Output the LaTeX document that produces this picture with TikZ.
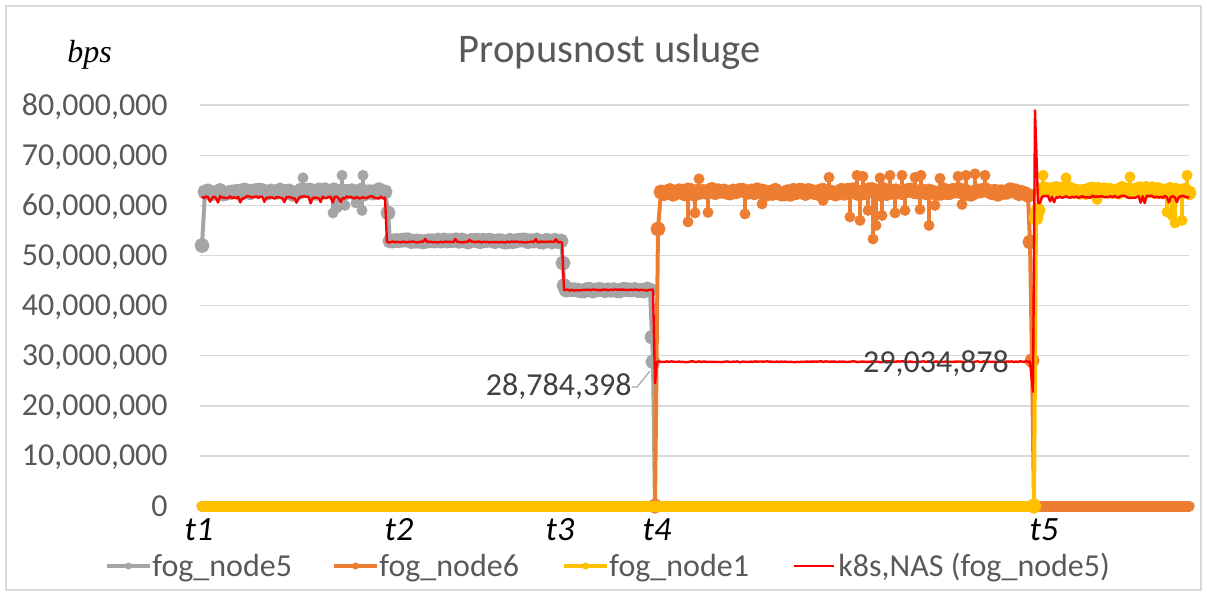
\documentclass[tikz,border=0pt]{standalone}
\usepackage{fontspec}
\setmainfont{Carlito}
\newfontfamily\serifit{Liberation Serif}
\definecolor{gcol}{HTML}{A5A5A5}
\definecolor{ocol}{HTML}{ED7D31}
\definecolor{ycol}{HTML}{FFC000}
\definecolor{rcol}{HTML}{FF0000}
\definecolor{gridcol}{HTML}{D9D9D9}
\definecolor{txtcol}{HTML}{595959}
\definecolor{labcol}{HTML}{404040}

\tikzset{
  series/.style={draw=#1, line width=2pt, line join=round, line cap=round,
    mark=*, mark size=2.75pt, mark options={draw=none, fill=#1}},
  zerobar/.style={draw=#1, line width=5.5pt, line cap=round},
  stem/.style={draw=#1, line width=2pt},
  knas/.style={draw=rcol, line width=1.2pt, line join=round},
  ticklab/.style={font=\fontsize{16}{16}\selectfont, text=txtcol, anchor=base east, inner sep=0pt},
  tlab/.style={font=\fontsize{17}{17}\selectfont\itshape, anchor=base, inner sep=0pt},
  datalab/.style={font=\fontsize{16}{16}\selectfont, text=labcol, inner sep=0pt},
  legtxt/.style={font=\fontsize{16}{16}\selectfont, text=txtcol, anchor=base west, inner sep=0pt}
}

\begin{document}
\begin{tikzpicture}[x=0.5pt, y=-0.5pt, declare function={py(\v)=506-5.01*\v;}]
\pgfmathsetseed{7}
\useasboundingbox (0,0) rectangle (1207,596);
\draw[gridcol, line width=0.75pt] (6,6) rectangle (1201,590);

% grid and axis labels
\foreach \v/\lab in {0/0, 10/{10,000,000}, 20/{20,000,000}, 30/{30,000,000}, 40/{40,000,000},
                     50/{50,000,000}, 60/{60,000,000}, 70/{70,000,000}, 80/{80,000,000}} {
  \draw[gridcol, line width=0.75pt] (200,{py(\v)}) -- (1189,{py(\v)});
  \node[ticklab] (tick\v) at (168,{py(\v)+10}) {\lab};
}
\node[font=\fontsize{20.3}{20.3}\selectfont, text=txtcol, anchor=base, inner sep=0pt] (title) at (610,62) {Propusnost usluge};
\node[font=\fontsize{16}{16}\selectfont\serifit\itshape, anchor=base west, inner sep=0pt] (unit) at (67,62) {bps};

% fog_node5
\draw[zerobar=gcol] (655,506) -- (1189,506);
\draw[series=gcol] plot coordinates {(202,{py(52)}) (205,{py(62.7)})}
  -- plot[domain=208:382, samples=59] (\x,{py(62.7+0.45*rand)})
  -- plot coordinates {(385,{py(62.7)}) (388,{py(58.5)}) (390,{py(52.9)})}
  -- plot[domain=393:558, samples=56] (\x,{py(52.9+0.25*rand)})
  -- plot coordinates {(561,{py(52.9)}) (563,{py(48.5)}) (564,{py(44)}) (566,{py(43.1)})}
  -- plot[domain=569:647, samples=27] (\x,{py(43.1+0.25*rand)})
  -- plot coordinates {(650,{py(43.1)}) (652,{py(33.7)}) (653,{py(28.78)}) (655,{py(0)})};
\foreach \px/\pv in {303/65.5, 342/66, 363/66, 333/58.5, 337/59.5, 345/60, 356/60.5, 362/59, 293/61.8} {
  \draw[stem=gcol] (\px,{py(62.7)}) -- (\px,{py(\pv)});
  \fill[gcol] (\px,{py(\pv)}) circle[radius=5.5];
}

% fog_node6
\draw[zerobar=ocol] (202,506) -- (654,506);
\draw[zerobar=ocol] (1034,506) -- (1189,506);
\draw[series=ocol] plot coordinates {(655,{py(0)}) (658,{py(55.3)}) (661,{py(62.7)})}
  -- plot[domain=664:1025, samples=121] (\x,{py(62.7+0.5*rand)})
  -- plot coordinates {(1028,{py(62)}) (1030,{py(52.7)}) (1032,{py(29.03)}) (1034,{py(0)})};
\foreach \px/\pv in {699/65.3, 829/65.6, 857/66, 863/65.8, 880/65.5, 890/66, 902/66, 915/65.6,
                     921/66, 940/65.4, 958/65.8, 966/66, 975/66.3, 985/66,
                     688/56.7, 695/58.5, 708/58.6, 745/58.3, 762/60.3, 823/61, 850/57.7, 860/57,
                     868/59, 873/53.3, 876/56, 882/58, 895/58.5, 905/59, 920/59.2, 929/56,
                     935/60, 962/60.2} {
  \draw[stem=ocol] (\px,{py(62.7)}) -- (\px,{py(\pv)});
  \fill[ocol] (\px,{py(\pv)}) circle[radius=5.5];
}

% fog_node1
\draw[zerobar=ycol] (202,506) -- (1034,506);
\draw[series=ycol] plot coordinates {(1034,{py(0)}) (1036,{py(57.5)}) (1038,{py(59)}) (1041,{py(63)})}
  -- plot[domain=1044:1185, samples=48] (\x,{py(63+0.45*rand)})
  -- plot coordinates {(1189,{py(62.5)})};
\foreach \px/\pv in {1043/66, 1066/65.5, 1130/65.7, 1187/66, 1097/61.2, 1167/58.7, 1172/58,
                     1175/56.5, 1182/57} {
  \draw[stem=ycol] (\px,{py(63)}) -- (\px,{py(\pv)});
  \fill[ycol] (\px,{py(\pv)}) circle[radius=5.5];
}

% k8s,NAS
\draw[knas] (202,{py(61.8)})
  -- plot[domain=204:385, samples=91] (\x,{py(61.6+0.25*rand-1.1*(rnd>0.9))})
  -- (387,{py(52.7)})
  -- plot[domain=389:562, samples=87] (\x,{py(52.7+0.12*rand+0.5*(rnd>0.95))})
  -- (564,{py(43.1)})
  -- plot[domain=566:653, samples=44] (\x,{py(43.1+0.12*rand)})
  -- (655,{py(24.5)}) -- (657,{py(28.8)})
  -- plot[domain=659:1030, samples=186] (\x,{py(28.8+0.08*rand)})
  -- (1033,{py(22.8)}) -- (1035,{py(79)}) -- (1038,{py(60.5)})
  -- plot[domain=1040:1189, samples=75] (\x,{py(61.7+0.25*rand-1.1*(rnd>0.92))});

% data labels
\node[datalab, anchor=east] (lab1) at (632,387) {28,784,398};
\coordinate (p1) at (650,371);
\draw[gcol, line width=0.6pt] (lab1.east) -- ++(5,0) -- (p1);
\node[datalab] (lab2) at (936,364) {29,034,878};

% time marks
\foreach \tx/\tn in {199/1, 399/2, 560/3, 657/4, 1044/5}
  \node[tlab] (t\tn) at (\tx,540) {t\tn};

% legend
\foreach \c/\lab/\xs [count=\i] in {gcol/fog\_node5/107, ocol/fog\_node6/334, ycol/fog\_node1/564} {
  \draw[\c, line width=2pt] (\xs,566) -- ++(43,0);
  \fill[\c] (\xs+21.5,566) circle[radius=3.5];
  \node[legtxt] (leg\i) at (\xs+45,576) {\lab};
}
\draw[rcol, line width=1pt] (794,566) -- (834,566);
\node[legtxt] (leg4) at (838,576) {k8s,NAS (fog\_node5)};
\end{tikzpicture}
\end{document}
